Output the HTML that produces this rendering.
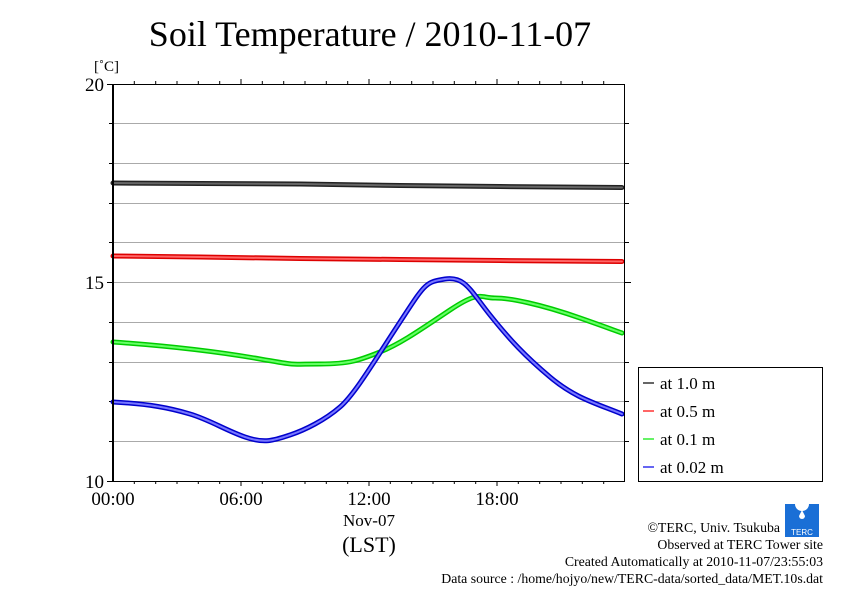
<!DOCTYPE html>
<html><head><meta charset="utf-8"><style>body{margin:0;background:#fff}svg{display:block}</style></head><body>
<svg width="842" height="595" viewBox="0 0 842 595" xmlns="http://www.w3.org/2000/svg" font-family="Liberation Serif, serif">
<rect width="842" height="595" fill="#fff"/>
<text x="370" y="46" font-size="36" text-anchor="middle">Soil Temperature / 2010-11-07</text>
<text x="94" y="71" font-size="15">[˚C]</text>
<g stroke="#aaa" stroke-width="1">
<line x1="113" y1="123.5" x2="625" y2="123.5"/><line x1="113" y1="163.5" x2="625" y2="163.5"/>
<line x1="113" y1="203.5" x2="625" y2="203.5"/><line x1="113" y1="242.5" x2="625" y2="242.5"/>
<line x1="113" y1="282.5" x2="625" y2="282.5"/><line x1="113" y1="322.5" x2="625" y2="322.5"/>
<line x1="113" y1="362.5" x2="625" y2="362.5"/><line x1="113" y1="401.5" x2="625" y2="401.5"/>
<line x1="113" y1="441.5" x2="625" y2="441.5"/>
</g>
<g stroke="#000" stroke-width="1">
<line x1="107" y1="84.5" x2="113" y2="84.5"/><line x1="107" y1="282.5" x2="113" y2="282.5"/><line x1="107" y1="481.5" x2="113" y2="481.5"/>
<line x1="109" y1="123.5" x2="113" y2="123.5"/><line x1="109" y1="163.5" x2="113" y2="163.5"/><line x1="109" y1="203.5" x2="113" y2="203.5"/><line x1="109" y1="242.5" x2="113" y2="242.5"/><line x1="109" y1="322.5" x2="113" y2="322.5"/><line x1="109" y1="362.5" x2="113" y2="362.5"/><line x1="109" y1="401.5" x2="113" y2="401.5"/><line x1="109" y1="441.5" x2="113" y2="441.5"/>
<line x1="625" y1="123.5" x2="629" y2="123.5"/><line x1="625" y1="163.5" x2="629" y2="163.5"/><line x1="625" y1="203.5" x2="629" y2="203.5"/><line x1="625" y1="242.5" x2="629" y2="242.5"/><line x1="625" y1="282.5" x2="631" y2="282.5"/><line x1="625" y1="322.5" x2="629" y2="322.5"/><line x1="625" y1="362.5" x2="629" y2="362.5"/><line x1="625" y1="401.5" x2="629" y2="401.5"/><line x1="625" y1="441.5" x2="629" y2="441.5"/>
</g>
<g stroke="#000">
<path d="M134.3 84v-3M155.7 84v-3M177 84v-3M198.3 84v-3M219.7 84v-3M241 84v-5M262.3 84v-3M283.7 84v-3M305 84v-3M326.3 84v-3M347.7 84v-3M369 84v-5M390.3 84v-3M411.7 84v-3M433 84v-3M454.3 84v-3M475.7 84v-3M497 84v-5M518.3 84v-3M539.7 84v-3M561 84v-3M582.3 84v-3M603.7 84v-3"/>
<path d="M134.3 481v3M155.7 481v3M177 481v3M198.3 481v3M219.7 481v3M241 481v5M262.3 481v3M283.7 481v3M305 481v3M326.3 481v3M347.7 481v3M369 481v5M390.3 481v3M411.7 481v3M433 481v3M454.3 481v3M475.7 481v3M497 481v5M518.3 481v3M539.7 481v3M561 481v3M582.3 481v3M603.7 481v3"/>
</g>
<g fill="none" stroke-linejoin="round" stroke-linecap="round">
<path id="g" d="M113,342 C170,346 220,352 260,359 S290,364 320,364 S360,360 380,352 S420,330 450,310 S480,298 495,298 S540,304 580,318 S610,329 622,333" stroke="#0c0" stroke-width="5"/>
<path d="M113,342 C170,346 220,352 260,359 S290,364 320,364 S360,360 380,352 S420,330 450,310 S480,298 495,298 S540,304 580,318 S610,329 622,333" stroke="#6f6" stroke-width="2"/>
<polyline stroke="#222" stroke-width="5" points="113,183 200,183.5 300,184 400,185.5 500,186.5 622,187.5"/>
<polyline stroke="#666" stroke-width="2" points="113,183 200,183.5 300,184 400,185.5 500,186.5 622,187.5"/>
<polyline stroke="#d00" stroke-width="5" points="113,256 200,257 300,258.5 400,259.5 500,260.5 622,261.5"/>
<polyline stroke="#f66" stroke-width="2" points="113,256 200,257 300,258.5 400,259.5 500,260.5 622,261.5"/>
<path d="M113,402 C150,404 170,408 190,414 S225,430 245,437 S275,440 290,435 S325,420 340,407 S375,360 400,322 S425,282 445,279 S470,290 490,315 S525,356 550,377 S595,403 622,414" stroke="#00c" stroke-width="5"/>
<path d="M113,402 C150,404 170,408 190,414 S225,430 245,437 S275,440 290,435 S325,420 340,407 S375,360 400,322 S425,282 445,279 S470,290 490,315 S525,356 550,377 S595,403 622,414" stroke="#77f" stroke-width="2"/>
</g>
<rect x="113.5" y="84.5" width="511" height="397" fill="none" stroke="#000" stroke-width="1"/>
<line x1="113" y1="84" x2="113" y2="482" stroke="#000" stroke-width="2"/>
<g font-size="19" text-anchor="end"><text x="104" y="91">20</text><text x="104" y="289">15</text><text x="104" y="488">10</text></g>
<g font-size="19" text-anchor="middle"><text x="113" y="505">00:00</text><text x="241" y="505">06:00</text><text x="369" y="505">12:00</text><text x="497" y="505">18:00</text>
<text x="369" y="526" font-size="17">Nov-07</text><text x="369" y="552" font-size="22">(LST)</text></g>
<rect x="638.5" y="367.5" width="184" height="114" fill="#fff" stroke="#000"/>
<g font-size="17"><text x="660" y="389">at 1.0 m</text><text x="660" y="417">at 0.5 m</text><text x="660" y="445">at 0.1 m</text><text x="660" y="473">at 0.02 m</text></g>
<g stroke-width="1.5"><line x1="643" y1="383" x2="654" y2="383" stroke="#333"/><line x1="643" y1="411" x2="654" y2="411" stroke="#f33"/><line x1="643" y1="439" x2="654" y2="439" stroke="#3e3"/><line x1="643" y1="467" x2="654" y2="467" stroke="#33e"/></g>
<rect x="785" y="504" width="34" height="33" fill="#1a6fd6"/>
<circle cx="802" cy="504" r="7" fill="#fff"/><path d="M802 510 l-3 6 a3 3 0 0 0 6 0z" fill="#fff"/>
<text x="802" y="535" font-size="8" fill="#fff" text-anchor="middle" font-family="Liberation Sans, sans-serif">TERC</text>
<g font-size="13.8" text-anchor="end"><text x="780" y="532">©TERC, Univ. Tsukuba</text><text x="823" y="549">Observed at TERC Tower site</text><text x="823" y="566">Created Automatically at 2010-11-07/23:55:03</text><text x="823" y="583">Data source : /home/hojyo/new/TERC-data/sorted_data/MET.10s.dat</text></g>
</svg>
</body></html>
